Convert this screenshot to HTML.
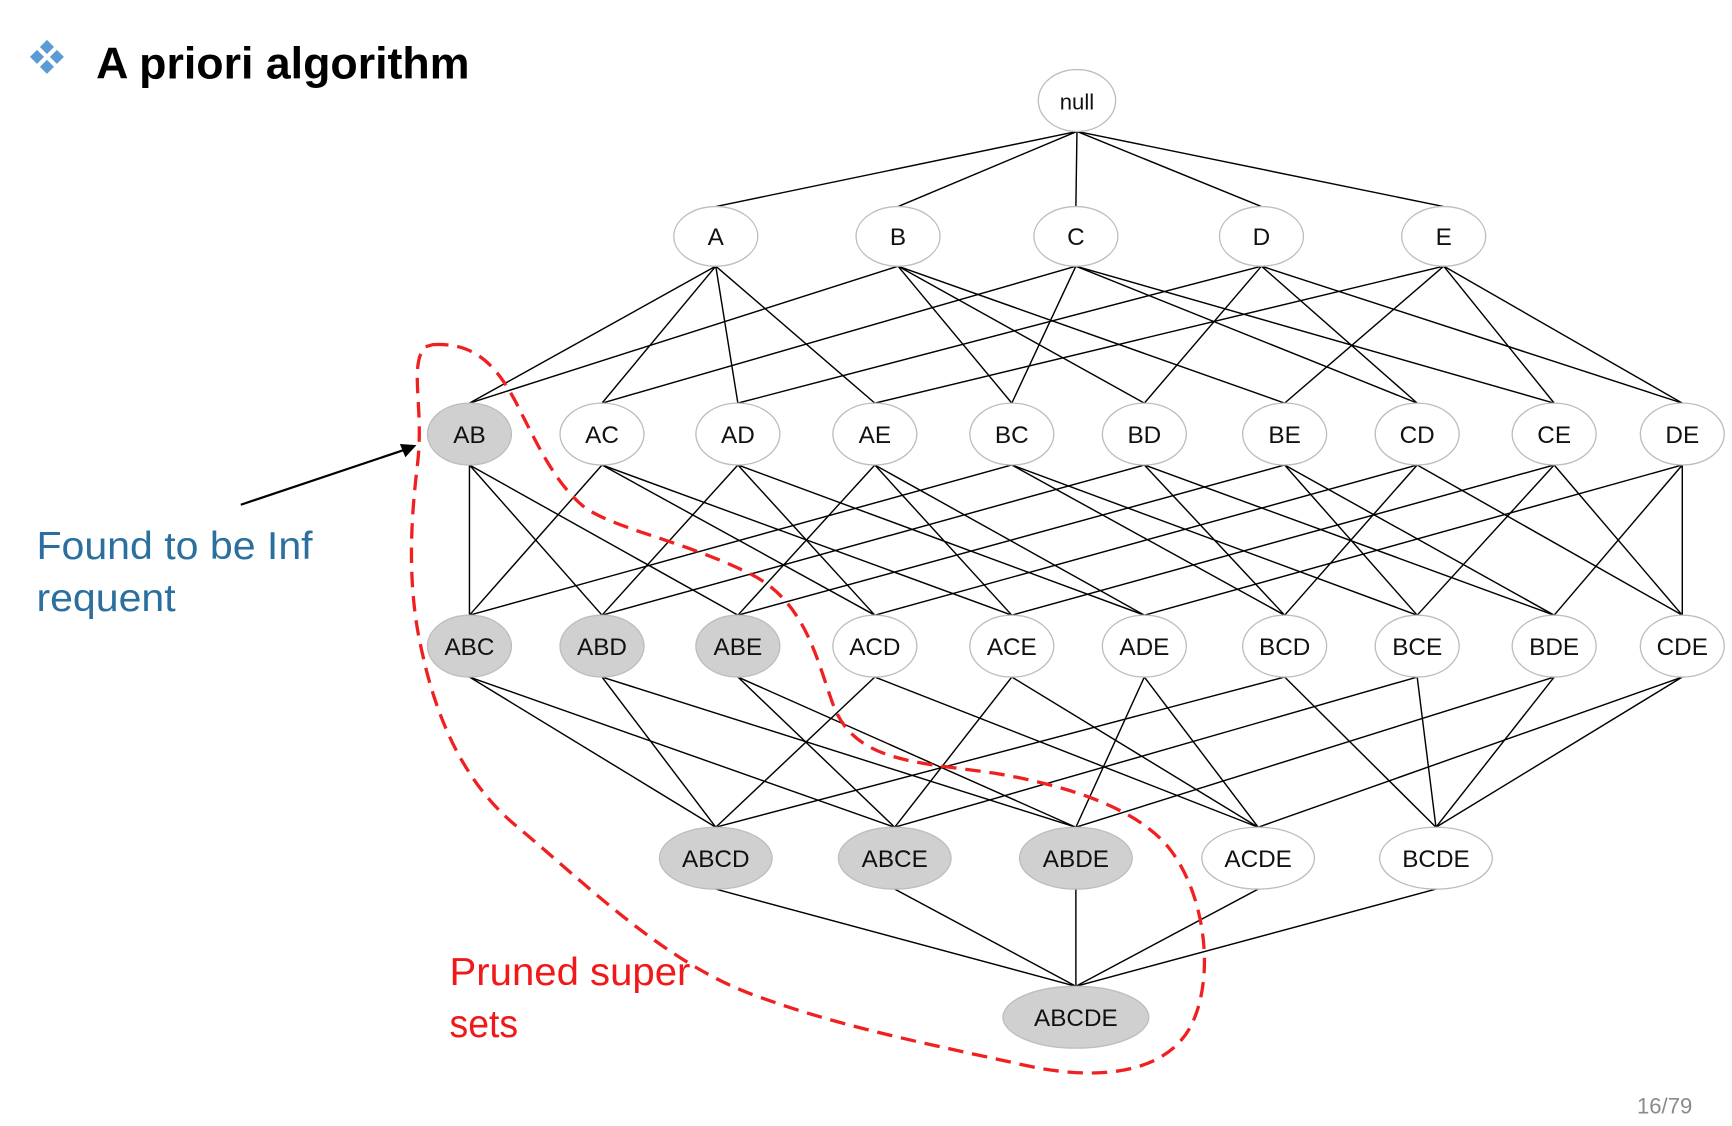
<!DOCTYPE html>
<html><head><meta charset="utf-8"><style>
html,body{margin:0;padding:0;background:#fff;overflow:hidden}
svg{display:block}
</style></head><body>
<svg id="s" width="1732" height="1126" viewBox="0 0 1568 1019.5" preserveAspectRatio="none" xmlns="http://www.w3.org/2000/svg">
<g id="edges" stroke="#000" stroke-width="1.3"></g>
<g id="nodes" stroke="#bdbdbd" stroke-width="1.2" font-family="Liberation Sans, Arial, sans-serif" font-size="22" text-anchor="middle">
<ellipse cx="975" cy="91" rx="35" ry="28" fill="#fff"/><text x="975" y="99" stroke="none" fill="#111" font-size="20">null</text>
<ellipse cx="648" cy="214" rx="38" ry="27" fill="#fff"/><text x="648" y="222" stroke="none" fill="#111">A</text>
<ellipse cx="813" cy="214" rx="38" ry="27" fill="#fff"/><text x="813" y="222" stroke="none" fill="#111">B</text>
<ellipse cx="974" cy="214" rx="38" ry="27" fill="#fff"/><text x="974" y="222" stroke="none" fill="#111">C</text>
<ellipse cx="1142" cy="214" rx="38" ry="27" fill="#fff"/><text x="1142" y="222" stroke="none" fill="#111">D</text>
<ellipse cx="1307" cy="214" rx="38" ry="27" fill="#fff"/><text x="1307" y="222" stroke="none" fill="#111">E</text>

<ellipse cx="425" cy="393" rx="38" ry="28" fill="#d0d0d0"/><text x="425" y="401" stroke="none" fill="#111">AB</text>
<ellipse cx="545" cy="393" rx="38" ry="28" fill="#fff"/><text x="545" y="401" stroke="none" fill="#111">AC</text>
<ellipse cx="668" cy="393" rx="38" ry="28" fill="#fff"/><text x="668" y="401" stroke="none" fill="#111">AD</text>
<ellipse cx="792" cy="393" rx="38" ry="28" fill="#fff"/><text x="792" y="401" stroke="none" fill="#111">AE</text>
<ellipse cx="916" cy="393" rx="38" ry="28" fill="#fff"/><text x="916" y="401" stroke="none" fill="#111">BC</text>
<ellipse cx="1036" cy="393" rx="38" ry="28" fill="#fff"/><text x="1036" y="401" stroke="none" fill="#111">BD</text>
<ellipse cx="1163" cy="393" rx="38" ry="28" fill="#fff"/><text x="1163" y="401" stroke="none" fill="#111">BE</text>
<ellipse cx="1283" cy="393" rx="38" ry="28" fill="#fff"/><text x="1283" y="401" stroke="none" fill="#111">CD</text>
<ellipse cx="1407" cy="393" rx="38" ry="28" fill="#fff"/><text x="1407" y="401" stroke="none" fill="#111">CE</text>
<ellipse cx="1523" cy="393" rx="38" ry="28" fill="#fff"/><text x="1523" y="401" stroke="none" fill="#111">DE</text>

<ellipse cx="425" cy="585" rx="38" ry="28" fill="#d0d0d0"/><text x="425" y="593" stroke="none" fill="#111">ABC</text>
<ellipse cx="545" cy="585" rx="38" ry="28" fill="#d0d0d0"/><text x="545" y="593" stroke="none" fill="#111">ABD</text>
<ellipse cx="668" cy="585" rx="38" ry="28" fill="#d0d0d0"/><text x="668" y="593" stroke="none" fill="#111">ABE</text>
<ellipse cx="792" cy="585" rx="38" ry="28" fill="#fff"/><text x="792" y="593" stroke="none" fill="#111">ACD</text>
<ellipse cx="916" cy="585" rx="38" ry="28" fill="#fff"/><text x="916" y="593" stroke="none" fill="#111">ACE</text>
<ellipse cx="1036" cy="585" rx="38" ry="28" fill="#fff"/><text x="1036" y="593" stroke="none" fill="#111">ADE</text>
<ellipse cx="1163" cy="585" rx="38" ry="28" fill="#fff"/><text x="1163" y="593" stroke="none" fill="#111">BCD</text>
<ellipse cx="1283" cy="585" rx="38" ry="28" fill="#fff"/><text x="1283" y="593" stroke="none" fill="#111">BCE</text>
<ellipse cx="1407" cy="585" rx="38" ry="28" fill="#fff"/><text x="1407" y="593" stroke="none" fill="#111">BDE</text>
<ellipse cx="1523" cy="585" rx="38" ry="28" fill="#fff"/><text x="1523" y="593" stroke="none" fill="#111">CDE</text>

<ellipse cx="648" cy="777" rx="51" ry="28" fill="#d0d0d0"/><text x="648" y="785" stroke="none" fill="#111">ABCD</text>
<ellipse cx="810" cy="777" rx="51" ry="28" fill="#d0d0d0"/><text x="810" y="785" stroke="none" fill="#111">ABCE</text>
<ellipse cx="974" cy="777" rx="51" ry="28" fill="#d0d0d0"/><text x="974" y="785" stroke="none" fill="#111">ABDE</text>
<ellipse cx="1139" cy="777" rx="51" ry="28" fill="#fff"/><text x="1139" y="785" stroke="none" fill="#111">ACDE</text>
<ellipse cx="1300" cy="777" rx="51" ry="28" fill="#fff"/><text x="1300" y="785" stroke="none" fill="#111">BCDE</text>

<ellipse cx="974" cy="921" rx="66" ry="28" fill="#d0d0d0"/><text x="974" y="929" stroke="none" fill="#111">ABCDE</text>
</g>

<path d="M392,312 C430,310 450,330 470,370 C490,410 505,440 530,460 C560,480 620,490 680,520 C730,545 740,600 755,640 C775,690 830,690 900,700 C960,710 1030,730 1060,770 C1090,810 1100,880 1080,925 C1060,970 1000,980 930,965 C840,945 760,930 680,900 C600,870 530,800 470,750 C420,710 395,650 382,590 C368,530 372,470 378,420 C384,370 370,330 385,314 Z" fill="none" stroke="#f02020" stroke-width="3" stroke-dasharray="14 8"/>

<line x1="218" y1="457" x2="370" y2="406" stroke="#000" stroke-width="2"/>
<polygon points="377,403 362,402 367,414" fill="#000"/>

<g font-family="Liberation Sans, Arial, sans-serif">
<text x="87" y="71" font-size="40" font-weight="bold" fill="#000" textLength="338" lengthAdjust="spacingAndGlyphs">A priori algorithm</text>
<text x="33" y="506" font-size="35" fill="#2a6f9e" textLength="250" lengthAdjust="spacingAndGlyphs">Found to be Inf</text>
<text x="33" y="553" font-size="35" fill="#2a6f9e" textLength="126" lengthAdjust="spacingAndGlyphs">requent</text>
<text x="407" y="892" font-size="35" fill="#f01818" textLength="218" lengthAdjust="spacingAndGlyphs">Pruned super</text>
<text x="407" y="939" font-size="35" fill="#f01818" textLength="62" lengthAdjust="spacingAndGlyphs">sets</text>
<text x="1482" y="1008" font-size="20" fill="#8a8a8a">16/79</text>
</g>
<g fill="#5b9bd5">
<rect x="38" y="38" width="9" height="9" transform="rotate(45 42.5 42.5)"/>
<rect x="29" y="47" width="9" height="9" transform="rotate(45 33.5 51.5)"/>
<rect x="47" y="47" width="9" height="9" transform="rotate(45 51.5 51.5)"/>
<rect x="38" y="56" width="9" height="9" transform="rotate(45 42.5 60.5)"/>
</g>
</svg>
<script>
var L=[
 {y:91,ry:28,n:{"":975}},
 {y:214,ry:27,n:{A:648,B:813,C:974,D:1142,E:1307}},
 {y:393,ry:28,n:{AB:425,AC:545,AD:668,AE:792,BC:916,BD:1036,BE:1163,CD:1283,CE:1407,DE:1523}},
 {y:585,ry:28,n:{ABC:425,ABD:545,ABE:668,ACD:792,ACE:916,ADE:1036,BCD:1163,BCE:1283,BDE:1407,CDE:1523}},
 {y:777,ry:28,n:{ABCD:648,ABCE:810,ABDE:974,ACDE:1139,BCDE:1300}},
 {y:921,ry:28,n:{ABCDE:974}}
];
var g=document.getElementById('edges'),ns="http://www.w3.org/2000/svg";
for(var i=0;i<L.length-1;i++){var a=L[i],b=L[i+1];
 for(var p in a.n)for(var c in b.n){var ok=true;for(var k=0;k<p.length;k++)if(c.indexOf(p[k])<0)ok=false;
  if(ok){var l=document.createElementNS(ns,'line');l.setAttribute('x1',a.n[p]);l.setAttribute('y1',a.y+a.ry);
  l.setAttribute('x2',b.n[c]);l.setAttribute('y2',b.y-b.ry);g.appendChild(l);}}}
</script>
</body></html>
